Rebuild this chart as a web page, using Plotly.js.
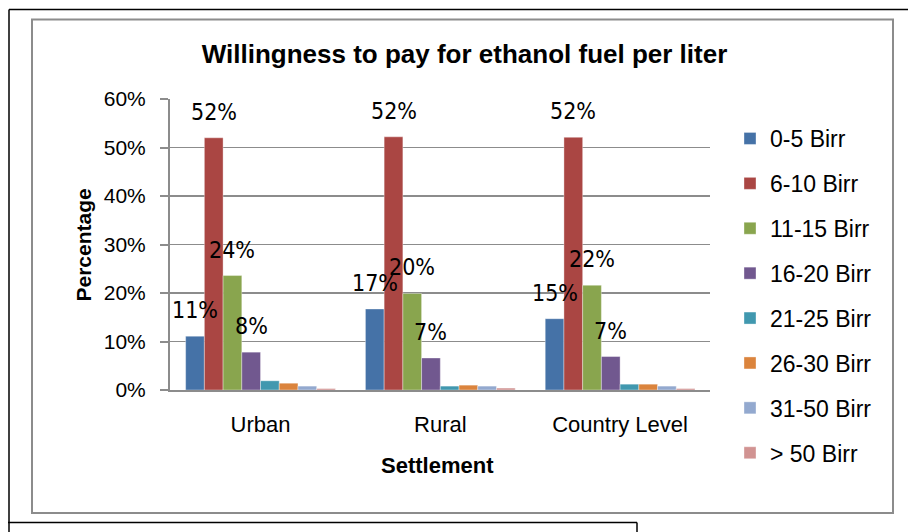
<!DOCTYPE html>
<html>
<head>
<meta charset="utf-8">
<script src="https://cdn.plot.ly/plotly-3.0.1.min.js"></script>
<style>html,body{margin:0;padding:0;background:#fff;}#chart{width:908px;height:532px;}</style>
</head>
<body>
<div id="chart"></div>
<script>
// ---- data ----
const categories = ["Urban", "Rural", "Country Level"];
const seriesNames = ["0-5 Birr", "6-10 Birr", "11-15 Birr", "16-20 Birr", "21-25 Birr", "26-30 Birr", "31-50 Birr", "> 50 Birr"];
const s0_5   = [11.1, 16.7, 14.7];
const s6_10  = [52.0, 52.2, 52.1];
const s11_15 = [23.6, 19.9, 21.6];
const s16_20 = [7.8, 6.6, 6.9];
const s21_25 = [1.9, 0.8, 1.2];
const s26_30 = [1.4, 1.0, 1.2];
const s31_50 = [0.8, 0.8, 0.8];
const s50up  = [0.3, 0.4, 0.3];
const labelledSeries = [true, true, true, true, false, false, false, false];
const yTickVals = [0, 10, 20, 30, 40, 50, 60];
const yTickText = ["0%", "10%", "20%", "30%", "40%", "50%", "60%"];

const seriesValues = [s0_5, s6_10, s11_15, s16_20, s21_25, s26_30, s31_50, s50up];
const colors = ["#4572A7", "#AA4643", "#89A54E", "#71588F", "#4198AF", "#DB843D", "#93A9CF", "#D19392"];

// ---- layout geometry ----
const W = 908, H = 532;
const M = {l: 170, r: 198, t: 99, b: 142};
const plotW = W - M.l - M.r, plotH = H - M.t - M.b;
const px = x => (x - M.l) / plotW;
const py = y => (H - M.b - y) / plotH;
const bargap = 0.167;

const traces = seriesNames.map((name, i) => ({
  type: 'bar',
  name: name,
  x: categories,
  y: seriesValues[i],
  marker: {color: colors[i], line: {color: 'rgba(255,255,255,0.45)', width: 0.8}},
  legendgroup: 'g' + i,
  hoverinfo: 'none'
}));

const nS = seriesNames.length;
const slot = (1 - bargap) / nS;
const annotations = [];
seriesValues.forEach((vals, i) => {
  if (!labelledSeries[i]) return;
  vals.forEach((v, j) => {
    annotations.push({
      xref: 'x', yref: 'y',
      x: j + (i - (nS - 1) / 2) * slot, y: v,
      text: Math.round(v) + '%',
      showarrow: false, yanchor: 'middle', xanchor: 'center', yshift: 26,
      font: {family: 'Liberation Sans Narrow, Arial Narrow, DejaVu Sans Condensed, sans-serif', size: 23, color: '#000'}
    });
  });
});
annotations.push({
  xref: 'paper', yref: 'paper', x: px(83), y: py(245.5),
  text: '<b>Percentage</b>', textangle: -90, showarrow: false,
  xanchor: 'center', yanchor: 'middle',
  font: {family: 'Liberation Sans, Arial, sans-serif', size: 21, color: '#000'}
});
annotations.push({
  xref: 'paper', yref: 'paper', x: px(437.5), y: py(465),
  text: '<b>Settlement</b>', showarrow: false,
  xanchor: 'center', yanchor: 'middle',
  font: {family: 'Liberation Sans, Arial, sans-serif', size: 22, color: '#000'}
});

const shapes = [
  {type: 'rect', xref: 'paper', yref: 'paper', x0: px(32), x1: px(893), y0: py(513), y1: py(19.5), line: {color: '#8c8c8c', width: 2}},
  {type: 'line', xref: 'paper', yref: 'paper', x0: px(9), x1: px(910), y0: py(9.5), y1: py(9.5), line: {color: '#000', width: 1.5}},
  {type: 'line', xref: 'paper', yref: 'paper', x0: px(9), x1: px(9), y0: py(9.5), y1: py(535), line: {color: '#000', width: 1.5}},
  {type: 'line', xref: 'paper', yref: 'paper', x0: px(8), x1: px(637), y0: py(522.5), y1: py(522.5), line: {color: '#000', width: 1.5}},
  {type: 'line', xref: 'paper', yref: 'paper', x0: px(637), x1: px(637), y0: py(522.5), y1: py(535), line: {color: '#000', width: 1.5}}
];

const layout = {
  width: W, height: H,
  margin: M,
  paper_bgcolor: '#fff', plot_bgcolor: '#fff',
  font: {family: 'Liberation Sans, Arial, sans-serif', color: '#000'},
  title: {
    text: '<b>Willingness to pay for ethanol fuel per liter</b>',
    xref: 'container', yref: 'container',
    x: 464.5 / W, y: 1 - 54 / H, xanchor: 'center', yanchor: 'middle',
    font: {family: 'Liberation Sans, Arial, sans-serif', size: 26, color: '#000'}
  },
  barmode: 'group', bargap: bargap, bargroupgap: 0,
  showlegend: true,
  legend: {
    x: px(730), y: py(117), xanchor: 'left', yanchor: 'top',
    traceorder: 'grouped', tracegroupgap: 12,
    maxheight: 480,
    font: {family: 'Liberation Sans, Arial, sans-serif', size: 23, color: '#000'},
    bgcolor: 'rgba(0,0,0,0)'
  },
  xaxis: {
    type: 'category',
    showline: true, linecolor: '#8c8c8c', linewidth: 2,
    ticks: '', showgrid: false, zeroline: false,
    tickfont: {family: 'Liberation Sans, Arial, sans-serif', size: 22, color: '#000'},
    ticklabelstandoff: 14
  },
  yaxis: {
    range: [0, 60], tickvals: yTickVals, ticktext: yTickText,
    showline: true, linecolor: '#8c8c8c', linewidth: 2,
    ticks: 'outside', ticklen: 8, tickcolor: '#8c8c8c', tickwidth: 2,
    showgrid: true, gridcolor: '#8c8c8c', gridwidth: 1.5, zeroline: false,
    tickfont: {family: 'Liberation Sans, Arial, sans-serif', size: 21, color: '#000'},
    ticklabelstandoff: 10
  },
  annotations: annotations,
  shapes: shapes
};

Plotly.newPlot('chart', traces, layout, {displayModeBar: false, staticPlot: true});
</script>
</body>
</html>
